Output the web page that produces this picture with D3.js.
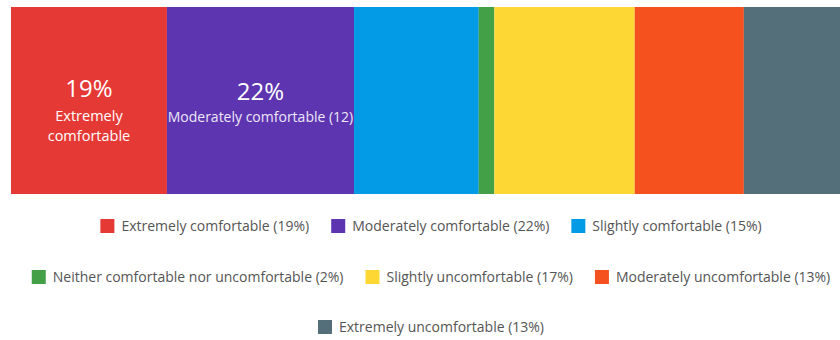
<!DOCTYPE html>
<html>
<head>
<meta charset="utf-8">
<script src="https://cdn.jsdelivr.net/npm/d3@7"></script>
<style>
  html, body { margin: 0; padding: 0; background: #fff; }
  svg { display: block; font-family: "Open Sans", "Noto Sans", sans-serif; }
</style>
</head>
<body>
<svg id="chart" width="840" height="340"></svg>
<script>
const categories = [
  "Extremely comfortable",
  "Moderately comfortable",
  "Slightly comfortable",
  "Neither comfortable nor uncomfortable",
  "Slightly uncomfortable",
  "Moderately uncomfortable",
  "Extremely uncomfortable"
];
const counts = [10, 12, 8, 1, 9, 7, 7];
const percents = [19, 22, 15, 2, 17, 13, 13];
const colors = ["#e53935", "#5e35b1", "#039be5", "#43a047", "#fdd835", "#f4511e", "#546e7a"];
const legendRows = [[0, 1, 2], [3, 4, 5], [6]];

const svg = d3.select("#chart");
const total = d3.sum(counts);
const x = d3.scaleLinear().domain([0, total]).range([11, 853]);
const y = d3.scaleBand().domain(["all"]).range([7, 194]).padding(0);

const starts = [];
let acc = 0;
counts.forEach(c => { starts.push(acc); acc += c; });

const segs = categories.map((name, i) => ({name, i, start: starts[i], count: counts[i], pct: percents[i]}));

svg.append("g").selectAll("rect").data(segs).join("rect")
  .attr("x", d => x(d.start))
  .attr("y", y("all"))
  .attr("width", d => x(d.start + d.count) - x(d.start))
  .attr("height", y.bandwidth())
  .attr("fill", d => colors[d.i]);

// in-bar labels
const mid = d => (x(d.start) + x(d.start + d.count)) / 2;
const lab = svg.append("g").attr("fill", "#fff").attr("text-anchor", "middle");
{
  const d = segs[0];
  lab.append("text").attr("x", mid(d)).attr("y", 97).attr("font-size", 24).text(d.pct + "%");
  const words = d.name.split(" ");
  lab.append("text").attr("x", mid(d)).attr("y", 121).attr("font-size", 14.5).text(words[0]);
  lab.append("text").attr("x", mid(d)).attr("y", 141).attr("font-size", 14.5).text(words.slice(1).join(" "));
}
{
  const d = segs[1];
  lab.append("text").attr("x", mid(d)).attr("y", 100).attr("font-size", 24).text(d.pct + "%");
  lab.append("text").attr("x", mid(d)).attr("y", 122).attr("font-size", 14).attr("fill", "#ece8f6")
    .text(d.name + " (" + d.count + ")");
}

// legend
const rowY = [226, 277, 327];
const centerX = 431;
const sq = 14, gapSqText = 7, gapItems = 22;
legendRows.forEach((row, r) => {
  const g = svg.append("g");
  const items = row.map(i => {
    const ig = g.append("g");
    ig.append("rect").attr("width", sq).attr("height", sq).attr("y", rowY[r] - sq / 2)
      .attr("fill", colors[i]);
    const t = ig.append("text").attr("x", sq + gapSqText).attr("y", rowY[r] + 5)
      .attr("font-size", 14).attr("fill", "#555")
      .text(categories[i] + " (" + percents[i] + "%)");
    const w = sq + gapSqText + t.node().getComputedTextLength();
    return {ig, w};
  });
  const totalW = d3.sum(items, d => d.w) + gapItems * (items.length - 1);
  let cx = centerX - totalW / 2;
  items.forEach(it => {
    it.ig.attr("transform", `translate(${cx},0)`);
    cx += it.w + gapItems;
  });
});
</script>
</body>
</html>
